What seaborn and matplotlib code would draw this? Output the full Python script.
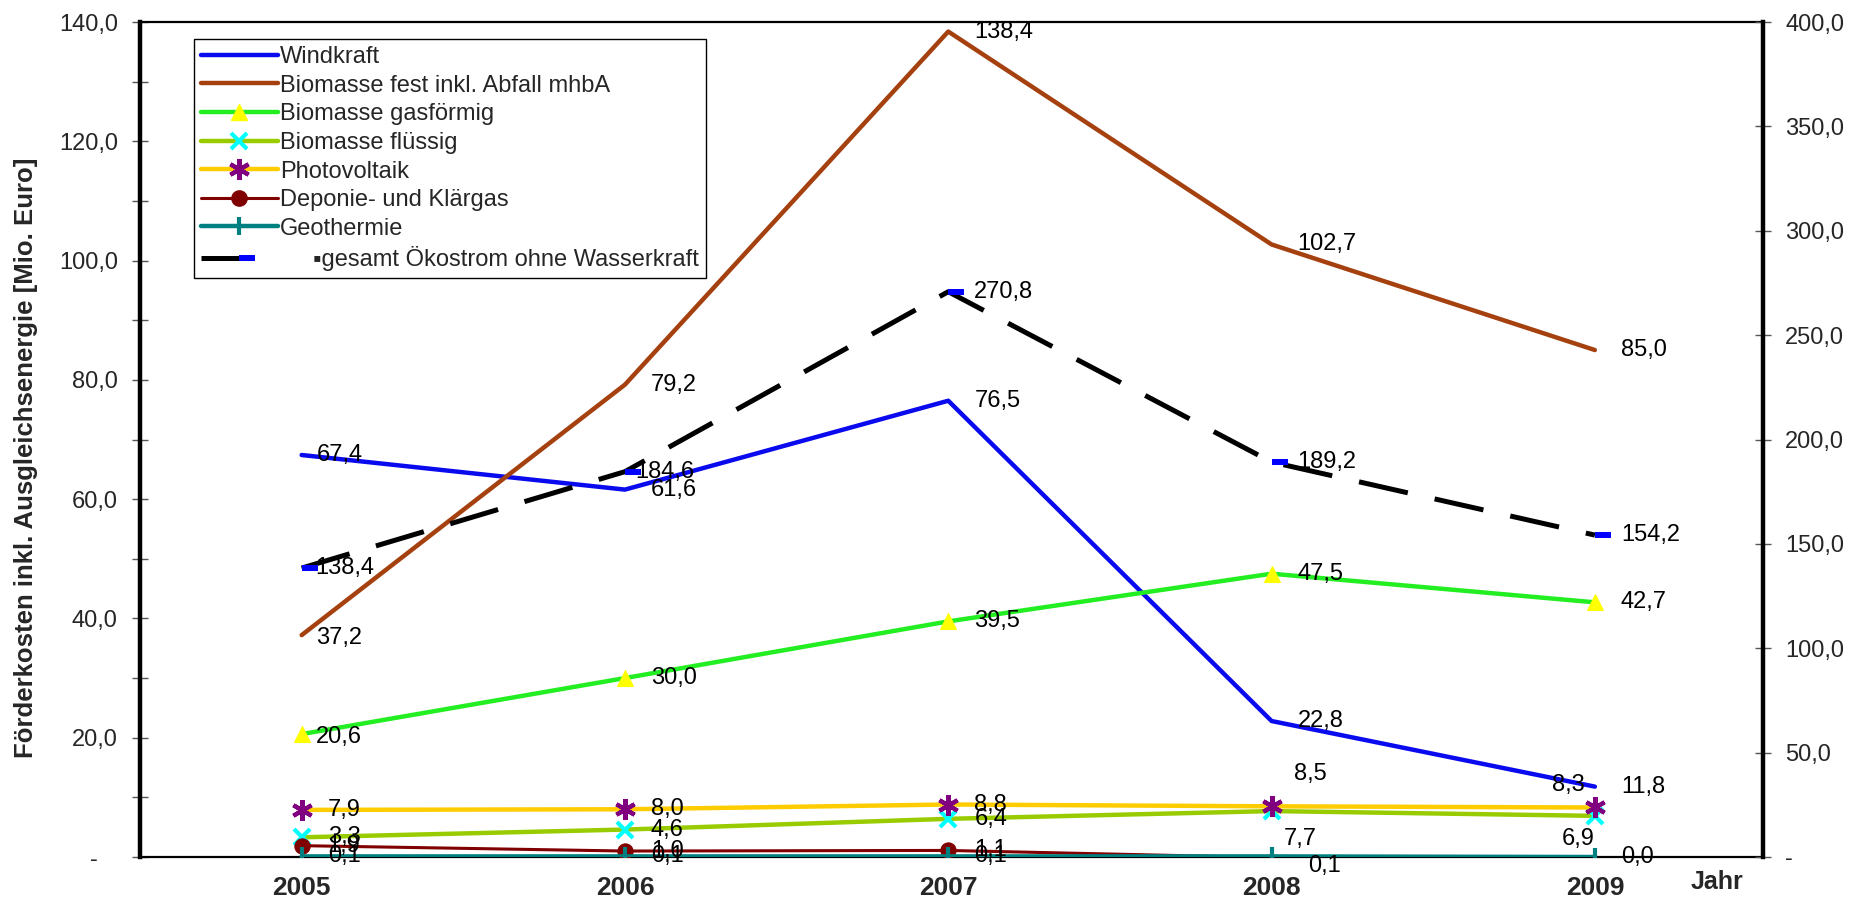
import matplotlib
matplotlib.use("Agg")
import matplotlib.pyplot as plt
import seaborn as sns
from matplotlib.lines import Line2D

# ---- data (Mio. Euro) ----
years = [2005, 2006, 2007, 2008, 2009]
windkraft = [67.4, 61.6, 76.5, 22.8, 11.8]
biomasse_fest = [37.2, 79.2, 138.4, 102.7, 85.0]
biomasse_gas = [20.6, 30.0, 39.5, 47.5, 42.7]
biomasse_fluessig = [3.3, 4.6, 6.4, 7.7, 6.9]
photovoltaik = [7.9, 8.0, 8.8, 8.5, 8.3]
deponie = [1.9, 1.0, 1.1, -0.1, -0.8]
geothermie = [0.1, 0.1, 0.1, 0.1, 0.0]
gesamt = [138.4, 184.6, 270.8, 189.2, 154.2]

left_ticks = [0, 20, 40, 60, 80, 100, 120, 140]
right_ticks = [0, 50, 100, 150, 200, 250, 300, 350, 400]

sns.set_theme(style="white")
plt.rcParams["font.family"] = ["Liberation Sans", "DejaVu Sans"]

W, H = 1870, 901
fig = plt.figure(figsize=(W / 100, H / 100), dpi=100)
x0, x1, y0, y1 = 140, 1763, 22, 857
ax = fig.add_axes([x0 / W, 1 - y1 / H, (x1 - x0) / W, (y1 - y0) / H])
ax2 = ax.twinx()

LBL = 17
TICK = 17


def fmt(v):
    return f"{v:.1f}".replace(".", ",")


def label_points(a, xs, ys, offsets=None, show=None, ha_list=None):
    for i, (xv, yv) in enumerate(zip(xs, ys)):
        if show is not None and not show[i]:
            continue
        dx, dy = (26, 0)
        ha = "left"
        if offsets and i in offsets:
            dx, dy = offsets[i]
        if ha_list and i in ha_list:
            ha = ha_list[i]
        a.annotate(fmt(yv), (xv, yv), xytext=(dx, dy), textcoords="offset pixels",
                   ha=ha, va="center", fontsize=LBL, color="black", zorder=20)


# series on the primary axis
specs = [
    ("Windkraft", windkraft, dict(color="#0a0aee", lw=3.2)),
    ("Biomasse fest inkl. Abfall mhbA", biomasse_fest, dict(color="#a5400f", lw=3.2)),
    ("Biomasse gasförmig", biomasse_gas,
     dict(color="#22ee22", lw=3.2, marker="^", ms=12, mfc="#ffff00", mec="#ffff00")),
    ("Biomasse flüssig", biomasse_fluessig,
     dict(color="#99cc00", lw=3.2, marker="x", ms=12, mew=3, mfc="#00ffff", mec="#00ffff")),
    ("Photovoltaik", photovoltaik,
     dict(color="#ffcc00", lw=3.2, marker=(6, 2, 0), ms=15, mew=3, mec="#800080", mfc="#800080")),
    ("Deponie- und Klärgas", deponie,
     dict(color="#800000", lw=2.2, marker="o", ms=11, mfc="#800000", mec="#800000",
          markevery=[0, 1, 2])),
    ("Geothermie", geothermie,
     dict(color="#008080", lw=3.2, marker="|", ms=13, mew=3, mec="#008080")),
]

handles = []
for z, (name, vals, kw) in enumerate(specs):
    sns.lineplot(x=years, y=vals, ax=ax, legend=False, zorder=3 + z, **kw)
    handles.append(Line2D([], [], label=name, **{k: v for k, v in kw.items() if k != "markevery"}))

label_points(ax, years, windkraft, offsets={0: (15, 0)})
label_points(ax, years, biomasse_fest, offsets={0: (14, -3)})
label_points(ax, years, biomasse_gas, offsets={0: (14, -3)})
label_points(ax, years, biomasse_fluessig,
             offsets={3: (12, -28), 4: (-17, -23)}, ha_list={4: "center"})
label_points(ax, years, photovoltaik,
             offsets={3: (22, 32), 4: (-10, 22)}, ha_list={4: "right"})
label_points(ax, years, deponie, show=[True, True, True, False, False])
label_points(ax, years, geothermie, offsets={3: (37, -10)})

# total on the secondary axis
rect = [(0, -3.5), (16, -3.5), (16, 3.5), (0, 3.5), (0, -3.5)]
sns.lineplot(x=years, y=gesamt, ax=ax2, legend=False, color="black", lw=3.6,
             marker=rect, ms=23, mfc="#0000ff", mec="#0000ff", mew=0, zorder=5)
ax2.lines[-1].set_dashes((10, 5.5))
h = Line2D([], [], color="black", lw=3.6, marker=rect, ms=23, mfc="#0000ff", mew=0,
           label="     \u25aagesamt Ökostrom ohne Wasserkraft")
h.set_dashes((10, 5.5))
handles.append(h)
label_points(ax2, years, gesamt, offsets={0: (14, 0), 1: (10, 0)})

# axes ranges and ticks
ax.set_xlim(2004.5, 2009.52)
ax.set_ylim(0, 140)
ax2.set_ylim(0, 400)

ax.set_xticks(years)
ax.set_xticklabels([str(y) for y in years], fontweight="bold", fontsize=19)
ax.set_xticks([y - 0.5 for y in years] + [years[-1] + 0.5], minor=True)
ax.tick_params(axis="x", which="major", length=0, pad=14)
ax.tick_params(axis="x", which="minor", length=10, width=1, direction="inout", color="#333333")

ax.set_yticks(left_ticks)
ax.set_yticklabels(["-   " if t == 0 else fmt(t) for t in left_ticks], fontsize=TICK)
ax.set_yticks(list(range(10, 140, 20)), minor=True)
ax.tick_params(axis="y", which="both", length=12, width=1, direction="inout",
               left=True, color="#555555", pad=10)

ax2.set_yticks(right_ticks)
ax2.set_yticklabels(["-" if t == 0 else fmt(t) for t in right_ticks], fontsize=TICK)
ax2.tick_params(axis="y", length=12, width=1, direction="inout", right=True,
                color="#555555", pad=10)

ax.spines["left"].set_linewidth(3.2)
ax.spines["bottom"].set_linewidth(1.6)
ax.spines["top"].set_linewidth(1.6)
ax.spines["right"].set_visible(False)
for s in ["left", "bottom", "top"]:
    ax2.spines[s].set_visible(False)
ax2.spines["right"].set_linewidth(3.2)
for a in (ax, ax2):
    for s in a.spines.values():
        s.set_color("black")
    a.grid(False)
    a.set_xlabel("")
    a.set_ylabel("")

ax.text(0.9717, -0.03, "Jahr", transform=ax.transAxes, ha="center", va="center",
        fontsize=18, fontweight="bold")
fig.text(26 / W, 1 - 458 / H, "Förderkosten inkl. Ausgleichsenergie [Mio. Euro]",
         rotation=90, ha="center", va="center", fontsize=18.5, fontweight="bold")

leg = ax2.legend(handles=handles, loc="upper left",
                 bbox_to_anchor=(194 / W, 1 - 39 / H), bbox_transform=fig.transFigure,
                 fontsize=17, frameon=True, fancybox=False, framealpha=1,
                 edgecolor="black", handlelength=3.25, handletextpad=0.1,
                 labelspacing=0.28, borderpad=0.3, borderaxespad=0)
leg.get_frame().set_linewidth(1.0)
leg.set_zorder(30)

fig.savefig("out.png", dpi=100)
